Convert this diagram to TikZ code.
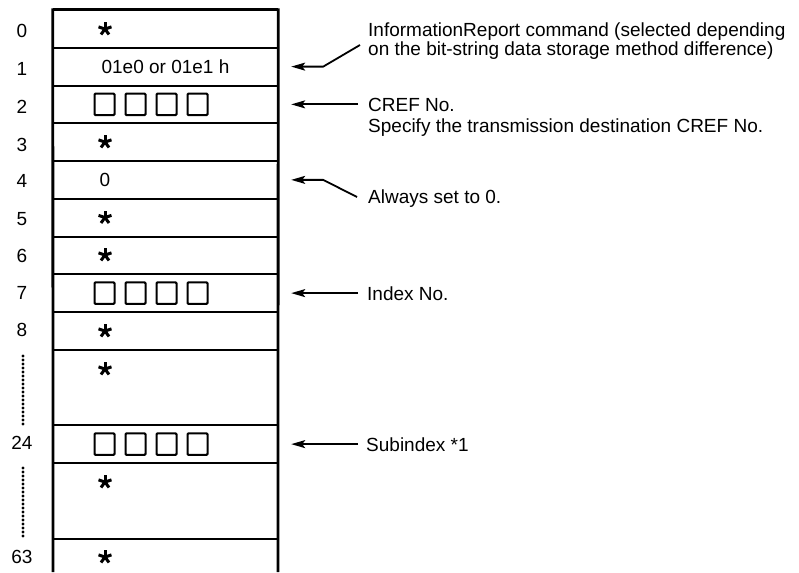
\documentclass[tikz,border=0pt]{standalone}
\usepackage{fontspec}
\setmainfont{Liberation Sans}
\usetikzlibrary{arrows.meta}
\begin{document}
\begin{tikzpicture}[x=1pt,y=-1pt,
  every node/.style={font=\fontsize{19pt}{20pt}\selectfont, inner sep=0pt},
  rowbox/.style={minimum width=225pt, minimum height=37.75pt},
  gapbox/.style={minimum width=225pt, minimum height=75.5pt},
  sq/.style={draw, line width=2pt, minimum width=20pt, minimum height=21.5pt, rounded corners=1pt},
  starnode/.style={minimum size=14pt},
  spoke/.style={line width=3pt},
  border/.style={line width=2.8pt},
  sep/.style={line width=2pt},
  dotline/.style={line width=3.2pt, line cap=round, dash pattern=on 0pt off 4pt},
  arr/.style={line width=1.8pt, -{Stealth[length=14pt,width=8pt,inset=3pt]}},
  note/.style={anchor=base west}]
\useasboundingbox (0,0) rectangle (799,572);

% rows (invisible named boxes)
\node[rowbox] (r0) at (165.5,28.875) {};
\node[rowbox] (r1) at (165.5,66.625) {01e0 or 01e1 h};
\node[rowbox] (r2) at (165.5,104.375) {};
\node[rowbox] (r3) at (165.5,142.125) {};
\node[rowbox] (r4) at (165.5,179.875) {};
\node[rowbox] (r5) at (165.5,217.625) {};
\node[rowbox] (r6) at (165.5,255.375) {};
\node[rowbox] (r7) at (165.5,293.125) {};
\node[rowbox] (r8) at (165.5,330.875) {};
\node[gapbox] (g1) at (165.5,387.5) {};
\node[rowbox] (r24) at (165.5,444.125) {};
\node[gapbox] (g2) at (165.5,500.75) {};
\node[rowbox] (r63) at (165.5,557.375) {};
\coordinate (bl) at (53,572);
\coordinate (br) at (278,572);

% grid lines
\draw[border] (r0.north west) -- (r0.north east);
\draw[border] ([yshift=1.4pt]r0.north west) -- (bl);
\draw[border] ([yshift=1.4pt]r0.north east) -- (br);
\foreach \r in {r0,r1,r2,r3,r4,r5,r6,r7,r8,g1,r24,g2}
  \draw[sep] (\r.south west) -- (\r.south east);

% row contents
\node (z4) at (105,179.875) {0};
\foreach \r in {r2,r7,r24}{
  \node[sq] (\r a) at (104.5,0 |- \r.center) {};
  \node[sq] (\r b) at (135.5,0 |- \r.center) {};
  \node[sq] (\r c) at (166.5,0 |- \r.center) {};
  \node[sq] (\r d) at (197.5,0 |- \r.center) {};
}
\node[starnode] (s0) at (105,29) {};
\node[starnode] (s3) at (105,142) {};
\node[starnode] (s5) at (105,217.5) {};
\node[starnode] (s6) at (105,255) {};
\node[starnode] (s8) at (105,331) {};
\node[starnode] (s9) at (105,369) {};
\node[starnode] (s25) at (105,482) {};
\node[starnode] (s63) at (105,557) {};
\foreach \s in {s0,s3,s5,s6,s8,s9,s25,s63}
  \foreach \a in {90,162,234,306,18}
    \draw[spoke] (\s.center) -- ++(\a:6.8pt);

% row labels
\node (l0) at (22,31) {0};
\node (l1) at (22,69) {1};
\node (l2) at (22,107) {2};
\node (l3) at (22,145) {3};
\node (l4) at (22,181) {4};
\node (l5) at (22,219) {5};
\node (l6) at (22,256) {6};
\node (l7) at (22,293) {7};
\node (l8) at (22,330) {8};
\node (l24) at (22,443) {24};
\node (l63) at (22,557) {63};
\draw[dotline] (23,356) -- (23,425);
\draw[dotline] (23,468) -- (23,538);

% annotations
\node[note] (t1a) at (368,36.7) {InformationReport command (selected depending};
\node[note] (t1b) at (368,56) {on the bit-string data storage method difference)};
\coordinate (c1) at (360,45);
\draw[arr] (c1) -- ([xshift=45pt]r1.east) -- ([xshift=13pt]r1.east);

\node[note] (t2a) at (368,112) {CREF No.};
\node[note] (t2b) at (368,132.5) {Specify the transmission destination CREF No.};
\coordinate (c2) at (358,104.375);
\draw[arr] (c2) -- ([xshift=13pt]r2.east);

\node[note] (t3) at (368,203) {Always set to 0.};
\coordinate (c3) at (357,197);
\draw[arr] (c3) -- ([xshift=45pt]r4.east) -- ([xshift=13pt]r4.east);

\node[note] (t4) at (367,300) {Index No.};
\coordinate (c4) at (358,293.125);
\draw[arr] (c4) -- ([xshift=13pt]r7.east);

\node[note] (t5) at (366,451) {Subindex *1};
\coordinate (c5) at (358,444.125);
\draw[arr] (c5) -- ([xshift=13pt]r24.east);
\end{tikzpicture}
\end{document}
